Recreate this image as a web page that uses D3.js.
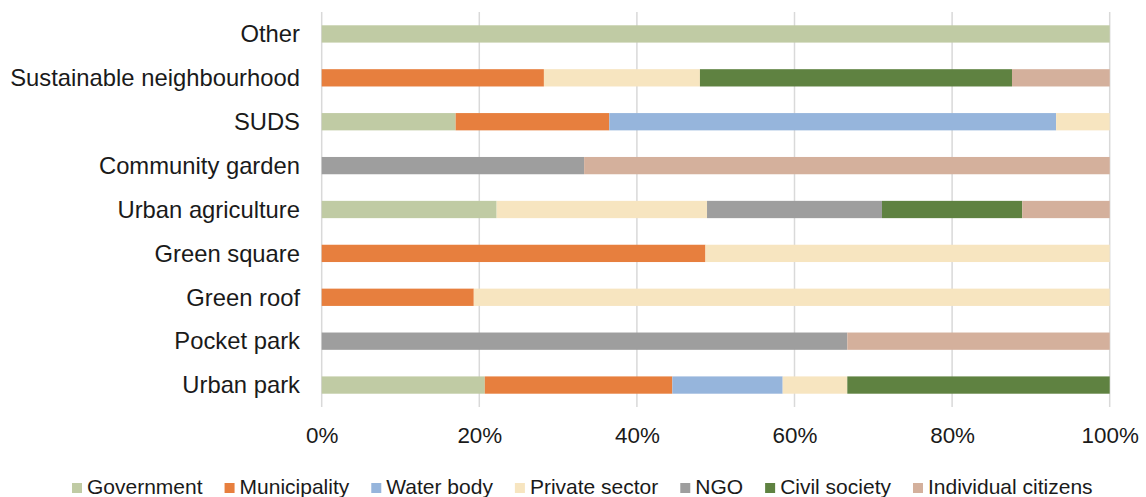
<!DOCTYPE html>
<html>
<head>
<meta charset="utf-8">
<script src="https://cdn.jsdelivr.net/npm/d3@7"></script>
<style>
  html, body { margin: 0; padding: 0; background: #fff; }
  svg { display: block; font-family: "Liberation Sans", Arial, sans-serif; }
</style>
</head>
<body>
<svg id="chart" width="1146" height="497"></svg>
<script>
// Nature-based solution types, listed top to bottom
const categories = [
  "Other", "Sustainable neighbourhood", "SUDS", "Community garden",
  "Urban agriculture", "Green square", "Green roof", "Pocket park", "Urban park"
];

// Share (%) of each initiator type per solution type
const government         = [100, 0,    17.0, 0,    22.2, 0,    0,    0,    20.7];
const municipality       = [0,   28.2, 19.5, 0,    0,    48.7, 19.3, 0,    23.8];
const waterBody          = [0,   0,    56.7, 0,    0,    0,    0,    0,    14.0];
const privateSector      = [0,   19.8, 6.8,  0,    26.7, 51.3, 80.7, 0,    8.2];
const ngo                = [0,   0,    0,    33.3, 22.2, 0,    0,    66.7, 0];
const civilSociety       = [0,   39.6, 0,    0,    17.8, 0,    0,    0,    33.3];
const individualCitizens = [0,   12.4, 0,    66.7, 11.1, 0,    0,    33.3, 0];

const seriesNames = ["Government", "Municipality", "Water body", "Private sector",
                     "NGO", "Civil society", "Individual citizens"];
const seriesValues = [government, municipality, waterBody, privateSector,
                      ngo, civilSociety, individualCitizens];
const seriesColors = ["#c0cba4", "#e77f3e", "#96b5dc", "#f7e5c0",
                      "#9e9e9e", "#5f8241", "#d4b09c"];

const tickValues = [0, 20, 40, 60, 80, 100];

// Table of rows for d3.stack
const rows = categories.map((c, i) => {
  const r = { category: c };
  seriesNames.forEach((s, j) => { r[s] = seriesValues[j][i]; });
  return r;
});

const svg = d3.select("#chart");
const plotLeft = 321.7, plotRight = 1109.7, plotTop = 12, plotBottom = 407;

const x = d3.scaleLinear().domain([0, 100]).range([plotLeft, plotRight]);
const y = d3.scaleBand().domain(categories).range([plotTop, plotBottom])
  .paddingInner(0.606).paddingOuter(0.303);
const color = d3.scaleOrdinal().domain(seriesNames).range(seriesColors);

// Vertical gridlines
svg.append("g")
  .selectAll("line")
  .data(tickValues)
  .join("line")
  .attr("x1", d => x(d)).attr("x2", d => x(d))
  .attr("y1", plotTop).attr("y2", plotBottom)
  .attr("stroke", "#d9d9d9")
  .attr("stroke-width", 1.5);

// Stacked bars
const stacked = d3.stack().keys(seriesNames)(rows);
svg.append("g")
  .selectAll("g")
  .data(stacked)
  .join("g")
  .attr("fill", d => color(d.key))
  .selectAll("rect")
  .data(d => d.filter(p => p[1] - p[0] > 0))
  .join("rect")
  .attr("x", d => x(d[0]))
  .attr("width", d => x(d[1]) - x(d[0]))
  .attr("y", d => y(d.data.category))
  .attr("height", y.bandwidth());

// Category labels
const catSize = 23.8;
svg.append("g")
  .selectAll("text")
  .data(categories)
  .join("text")
  .attr("x", 300)
  .attr("y", d => y(d) + y.bandwidth() / 2 + catSize * 0.35)
  .attr("text-anchor", "end")
  .attr("font-size", catSize)
  .attr("fill", "#1a1a1a")
  .text(d => d);

// Percentage axis
const xAxis = d3.axisBottom(x).tickValues(tickValues)
  .tickFormat(d => d + "%").tickSize(0).tickPadding(0);
const ax = svg.append("g").attr("transform", `translate(0,${plotBottom})`).call(xAxis);
ax.select(".domain").remove();
ax.selectAll("text")
  .attr("y", 36)
  .attr("dy", null)
  .attr("font-size", 22.4)
  .attr("font-family", "Liberation Sans, Arial, sans-serif")
  .attr("fill", "#1a1a1a");

// Legend
const legSize = 21;
const legend = svg.append("g");
let lx = 72;
seriesNames.forEach((s, i) => {
  const g = legend.append("g");
  g.append("rect")
    .attr("x", lx).attr("y", 483)
    .attr("width", 10).attr("height", 10)
    .attr("fill", seriesColors[i]);
  const t = g.append("text")
    .attr("x", lx + 15).attr("y", 494)
    .attr("font-size", legSize)
    .attr("fill", "#1a1a1a")
    .text(s);
  lx += 15 + t.node().getComputedTextLength() + 22;
});
</script>
</body>
</html>
